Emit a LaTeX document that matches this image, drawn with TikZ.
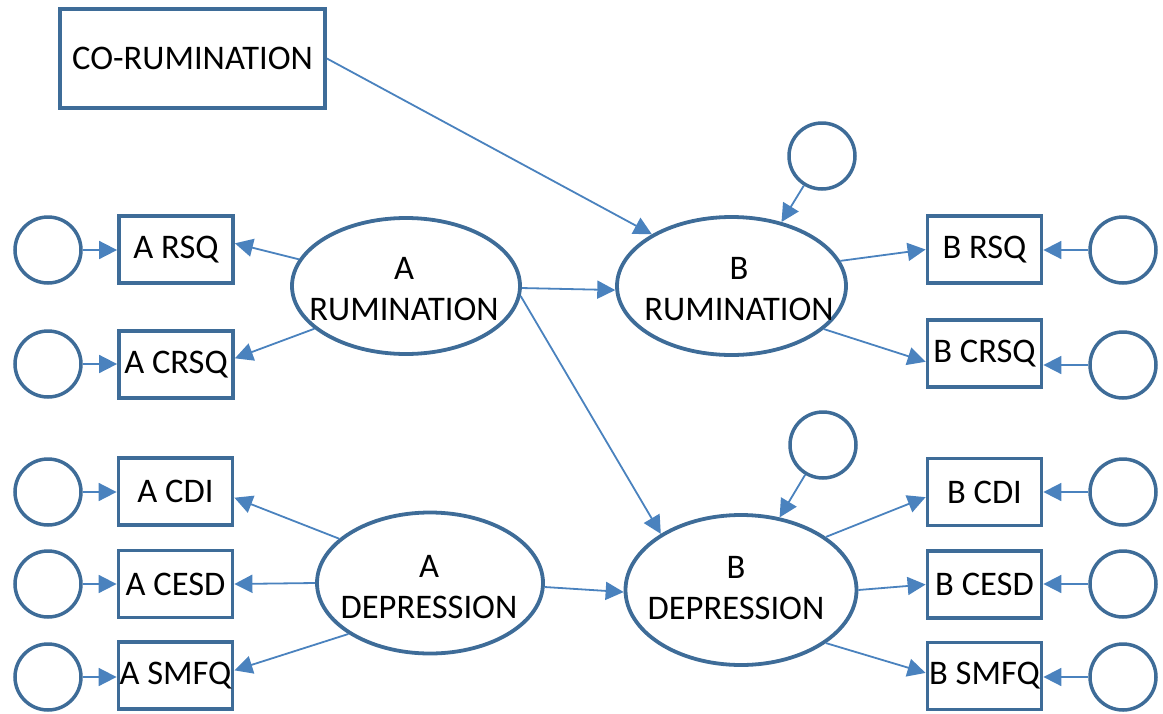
\documentclass[tikz,border=0pt]{standalone}
\usepackage{fontspec}
\setmainfont{Carlito}
\usetikzlibrary{arrows.meta,shapes.geometric}
\definecolor{shapeblue}{RGB}{62,108,152}
\definecolor{linkblue}{RGB}{74,130,190}
\begin{document}
\begin{tikzpicture}[x=1pt,y=-1pt,
  every node/.style={font=\fontsize{34.5}{41.5}\selectfont},
  obsbox/.style={draw=shapeblue, line width=3.8pt, rectangle, inner sep=0pt,
                 minimum width=114pt, minimum height=67pt},
  errc/.style={draw=shapeblue, line width=3.5pt, circle, inner sep=0pt, minimum size=66pt},
  latent/.style={draw=shapeblue, line width=3.8pt, ellipse, inner sep=0pt},
  lbl/.style={align=center, inner sep=0pt},
  link/.style={draw=linkblue, line width=1.8pt, -{Triangle[length=18pt,width=18pt]}}
]
\useasboundingbox (0,0) rectangle (1163,713);

% exogenous predictor
\node[obsbox, minimum width=265pt, minimum height=99pt] (co) at (192.5,58.5) {CO-RUMINATION};

% latent factors
\node[latent, minimum width=228pt, minimum height=136pt] (arum) at (406,286) {};
\node[latent, minimum width=229pt, minimum height=138pt] (brum) at (731.5,286) {};
\node[latent, minimum width=226pt, minimum height=141pt] (adep) at (430,583) {};
\node[latent, minimum width=231pt, minimum height=150pt] (bdep) at (741,590) {};
\node[lbl] (arum-t) at (404,289) {A\\RUMINATION};
\node[lbl] (brum-t) at (739,289) {B\\RUMINATION};
\node[lbl] (adep-t) at (429,587) {A\\DEPRESSION};
\node[lbl] (bdep-t) at (736,588) {B\\DEPRESSION};

% indicators, wave A
\node[obsbox] (arsq)  at (176,249.5)   {A RSQ};
\node[obsbox] (acrsq) at (176,364.5)   {A CRSQ};
\node[obsbox] (acdi)  at (175.5,491.5) {A CDI};
\node[obsbox] (acesd) at (175.5,584)   {A CESD};
\node[obsbox] (asmfq) at (175.5,675.5) {A SMFQ};

% indicators, wave B
\node[obsbox] (brsq)  at (984.5,249.5) {B RSQ};
\node[obsbox] (bcrsq) at (984.5,353.5) {B CRSQ};
\node[obsbox] (bcdi)  at (984.5,492)   {B CDI};
\node[obsbox] (bcesd) at (984.5,584.5) {B CESD};
\node[obsbox] (bsmfq) at (984.5,676)   {B SMFQ};

% measurement errors
\node[errc] (ea1) at (48,250) {};
\node[errc] (ea2) at (48,364) {};
\node[errc] (ea3) at (48,492) {};
\node[errc] (ea4) at (48,584) {};
\node[errc] (ea5) at (48,677) {};
\node[errc] (eb1) at (1123,250) {};
\node[errc] (eb2) at (1123,365) {};
\node[errc] (eb3) at (1123,492) {};
\node[errc] (eb4) at (1123,584) {};
\node[errc] (eb5) at (1123,677) {};

% disturbances
\node[errc] (d1) at (822,156) {};
\node[errc] (d2) at (823,445) {};

% structural paths
\draw[link] (co.east) -- (brum.147);
\draw[link] (d1) -- (brum.52);
\draw[link] (arum.-1) -- (brum.182);
\draw[link] (arum.-5) -- (bdep.145);
\draw[link] (adep.-2) -- (bdep.181);
\draw[link] (d2) -- (bdep.62);

% loadings, wave A
\draw[link] (arum.166) -- (arsq.6);
\draw[link] (arum.205) -- (acrsq.6);
\draw[link] (adep.154) -- (acdi.-6);
\draw[link] (adep.west) -- (acesd.east);
\draw[link] (adep.212) -- (asmfq.5);

% loadings, wave B
\draw[link] (brum.13) -- (brsq.west);
\draw[link] (brum.-25) -- (bcrsq.188);
\draw[link] (bdep.32) -- (bcdi.185);
\draw[link] (bdep.east) -- (bcesd.west);
\draw[link] (bdep.-32) -- (bsmfq.177);

% errors to indicators
\foreach \e/\b in {ea1/arsq, ea2/acrsq, ea3/acdi, ea4/acesd, ea5/asmfq}
  \draw[link] (\e.east) -- (\e.east -| \b.west);
\foreach \e/\b in {eb1/brsq, eb2/bcrsq, eb3/bcdi, eb4/bcesd, eb5/bsmfq}
  \draw[link] (\e.west) -- (\e.west -| \b.east);
\end{tikzpicture}
\end{document}
